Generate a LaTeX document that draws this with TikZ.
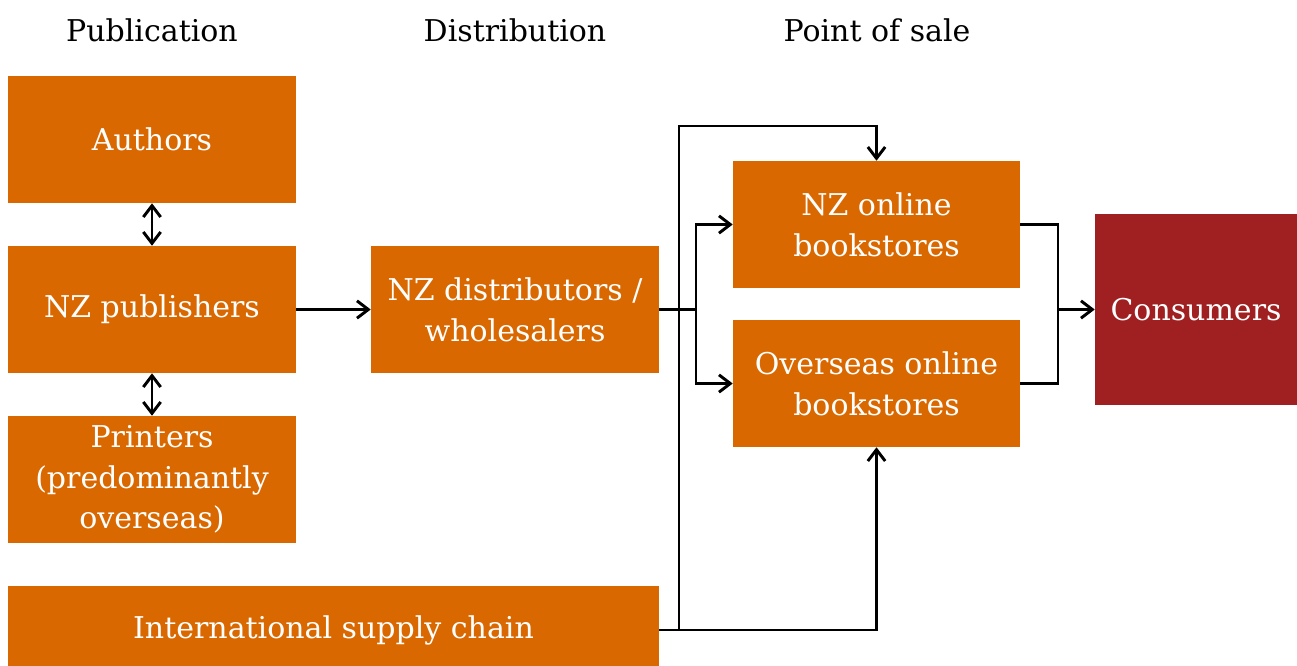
\documentclass[tikz,border=0pt]{standalone}
\usepackage{fontspec}
\setmainfont{DejaVu Serif}
\usepackage{xcolor}
\usetikzlibrary{arrows.meta}
\definecolor{boxorange}{RGB}{217,104,0}
\definecolor{boxred}{RGB}{160,31,32}

\begin{document}
\begin{tikzpicture}[x=0.75pt,y=-0.75pt,
  >={Straight Barb[length=8.5pt,width=13pt,line width=2.2pt]},
  stage/.style={rectangle, fill=boxorange, text=white, align=center, inner sep=0pt,
    font=\fontsize{22.5pt}{30.5pt}\selectfont, minimum width=288*0.75pt, minimum height=127*0.75pt},
  head/.style={font=\fontsize{22.5pt}{30pt}\selectfont},
  link/.style={line width=2.2pt, ->},
  both/.style={line width=2.2pt, <->},
  plain/.style={line width=2.2pt}]
\useasboundingbox (0,0) rectangle (1297,665);
\node[head] (hpub) at (152,30) {Publication};
\node[head] (hdist) at (515,30) {Distribution};
\node[head] (hsale) at (877,30) {Point of sale};
\node[stage] (authors) at (152,139.5) {Authors};
\node[stage] (pub) at (152,309.5) {NZ publishers};
\node[stage] (printers) at (152,479.5) {Printers\\(predominantly\\overseas)};
\node[stage, minimum width=651*0.75pt, minimum height=88*0.75pt] (intl) at (333.5,630) {International supply chain};
\node[stage] (dist) at (515,309.5) {NZ distributors /\\wholesalers};
\node[stage, minimum width=287*0.75pt] (nzonline) at (876.5,224.5) {NZ online\\bookstores};
\node[stage, minimum width=287*0.75pt] (overseas) at (876.5,383.5) {Overseas online\\bookstores};
\node[stage, fill=boxred, minimum width=202*0.75pt, minimum height=191*0.75pt] (consumers) at (1196,309.5) {Consumers};
\coordinate (split) at (696,309.5);
\coordinate (topbus) at (679,126);
\coordinate (join) at (1058,309.5);
\draw[both] (authors) -- (pub);
\draw[both] (pub) -- (printers);
\draw[link] (pub) -- (dist);
\draw[plain] (dist.east) -- (split);
\draw[link] (split) |- (nzonline.west);
\draw[link] (split) |- (overseas.west);
\draw[link] (intl.east) -| (topbus) -| (nzonline.north);
\draw[link] (intl.east) -| (overseas.south);
\draw[plain] (nzonline.east) -| (join);
\draw[plain] (overseas.east) -| (join);
\draw[link] (join) -- (consumers.west);
\end{tikzpicture}
\end{document}
